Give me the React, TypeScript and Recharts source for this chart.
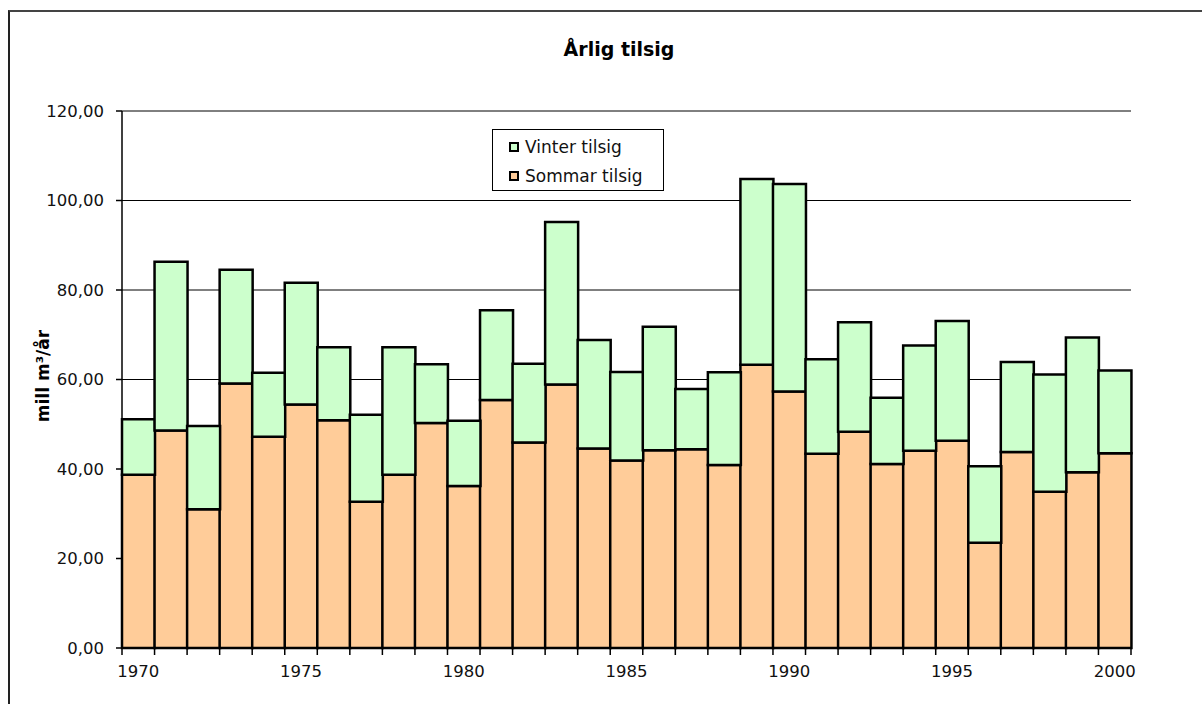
import React from 'react';
import { BarChart, Bar, XAxis, YAxis, CartesianGrid, Legend } from 'recharts';

// years on the x axis
const years = [
  '1970', '1971', '1972', '1973', '1974', '1975', '1976', '1977', '1978', '1979',
  '1980', '1981', '1982', '1983', '1984', '1985', '1986', '1987', '1988', '1989',
  '1990', '1991', '1992', '1993', '1994', '1995', '1996', '1997', '1998', '1999',
  '2000',
];

// mill m3/år, summer part (bottom of stack)
const sommar = [
  38.7, 48.6, 31.0, 59.1, 47.2, 54.4, 50.9, 32.7, 38.7, 50.3,
  36.2, 55.4, 45.9, 58.9, 44.6, 41.9, 44.2, 44.4, 40.9, 63.3,
  57.3, 43.4, 48.3, 41.1, 44.1, 46.3, 23.5, 43.8, 34.9, 39.3,
  43.5,
];

// winter part (top of stack)
const vinter = [
  12.4, 37.7, 18.6, 25.4, 14.3, 27.2, 16.3, 19.4, 28.5, 13.1,
  14.6, 20.1, 17.6, 36.3, 24.2, 19.8, 27.6, 13.5, 20.7, 41.5,
  46.4, 21.1, 24.5, 14.8, 23.5, 26.8, 17.1, 20.1, 26.2, 30.1,
  18.5,
];

const yTicks = [0, 20, 40, 60, 80, 100, 120];

const chartData = years.map((year, i) => ({
  year,
  sommar: sommar[i],
  vinter: vinter[i],
}));

const FONT = '"DejaVu Sans", Verdana, sans-serif';
const W = 1202;
const H = 704;
const margin = { top: 111, right: 71, bottom: 26, left: 22 };
const Y_AXIS_W = 100;
const BAND = (W - margin.left - Y_AXIS_W - margin.right) / years.length;
const TICK = 7;

const YearTick = (props: any) => {
  const { x, y, payload, index } = props;
  const left = x - BAND / 2;
  const showLabel = Number(payload.value) % 5 === 0;
  return (
    <g>
      <line x1={left} x2={left} y1={y - TICK} y2={y} stroke="#000" strokeWidth={1.5} />
      {index === years.length - 1 && (
        <line x1={x + BAND / 2} x2={x + BAND / 2} y1={y - TICK} y2={y} stroke="#000" strokeWidth={1.5} />
      )}
      {showLabel && (
        <text x={x} y={y + 10} dy="0.71em" textAnchor="middle" fill="#111" fontSize={16.5} fontFamily={FONT}>
          {payload.value}
        </text>
      )}
    </g>
  );
};

const legendItems = [
  { label: 'Vinter tilsig', color: '#CCFFCC' },
  { label: 'Sommar tilsig', color: '#FFCC99' },
];

const LegendBox = () => (
  <div
    style={{
      width: 172,
      height: 62,
      boxSizing: 'border-box',
      border: '1px solid #000',
      background: '#fff',
      paddingTop: 2,
      fontFamily: FONT,
      fontSize: 17,
      color: '#111',
    }}
  >
    {legendItems.map(item => (
      <div key={item.label} style={{ display: 'flex', alignItems: 'center', height: 29, paddingLeft: 16 }}>
        <span
          style={{
            display: 'inline-block',
            width: 6,
            height: 6,
            border: '2px solid #000',
            background: item.color,
            marginRight: 6,
          }}
        />
        <span>{item.label}</span>
      </div>
    ))}
  </div>
);

export default function App() {
  return (
    <div style={{ position: 'fixed', left: 0, top: 0, width: W, height: H, overflow: 'hidden', background: '#fff' }}>
      <div
        style={{
          position: 'absolute',
          left: 8,
          top: 10,
          width: 1300,
          height: 800,
          borderLeft: '2px solid #222',
          borderTop: '2px solid #444',
        }}
      />
      <div
        style={{
          position: 'absolute',
          left: 419,
          top: 38,
          width: 400,
          textAlign: 'center',
          fontFamily: FONT,
          fontWeight: 'bold',
          fontSize: 19,
          lineHeight: '22px',
          color: '#000',
        }}
      >
        Årlig tilsig
      </div>
      <div
        style={{
          position: 'absolute',
          left: 43,
          top: 376,
          transform: 'translate(-50%, -50%) rotate(-90deg)',
          whiteSpace: 'nowrap',
          fontFamily: FONT,
          fontWeight: 'bold',
          fontSize: 17,
          color: '#000',
        }}
      >
        mill m³/år
      </div>
      <div style={{ position: 'absolute', left: 0, top: 0 }}>
        <BarChart width={W} height={H} data={chartData} margin={margin} barCategoryGap={0}>
          <CartesianGrid vertical={false} stroke="#000" strokeWidth={1} />
          <XAxis
            dataKey="year"
            height={30}
            interval={0}
            tickLine={false}
            tickSize={TICK}
            tickMargin={0}
            tick={<YearTick />}
            axisLine={{ stroke: '#000', strokeWidth: 1.5 }}
          />
          <YAxis
            width={Y_AXIS_W}
            domain={[0, 120]}
            ticks={yTicks}
            interval={0}
            tickSize={6}
            tickMargin={12}
            tickFormatter={(v: number) => v.toFixed(2).replace('.', ',')}
            tick={{ fill: '#111', fontSize: 16.5, fontFamily: FONT }}
            tickLine={{ stroke: '#000', strokeWidth: 1.5 }}
            axisLine={{ stroke: '#000', strokeWidth: 1.5 }}
          />
          <Legend
            layout="horizontal"
            verticalAlign="middle"
            align="center"
            content={<LegendBox />}
            wrapperStyle={{ left: 492, top: 129, width: 172, height: 62 }}
          />
          <Bar dataKey="sommar" name="Sommar tilsig" stackId="a" fill="#FFCC99" stroke="#000" strokeWidth={2.5} isAnimationActive={false} />
          <Bar dataKey="vinter" name="Vinter tilsig" stackId="a" fill="#CCFFCC" stroke="#000" strokeWidth={2.5} isAnimationActive={false} />
        </BarChart>
      </div>
    </div>
  );
}
